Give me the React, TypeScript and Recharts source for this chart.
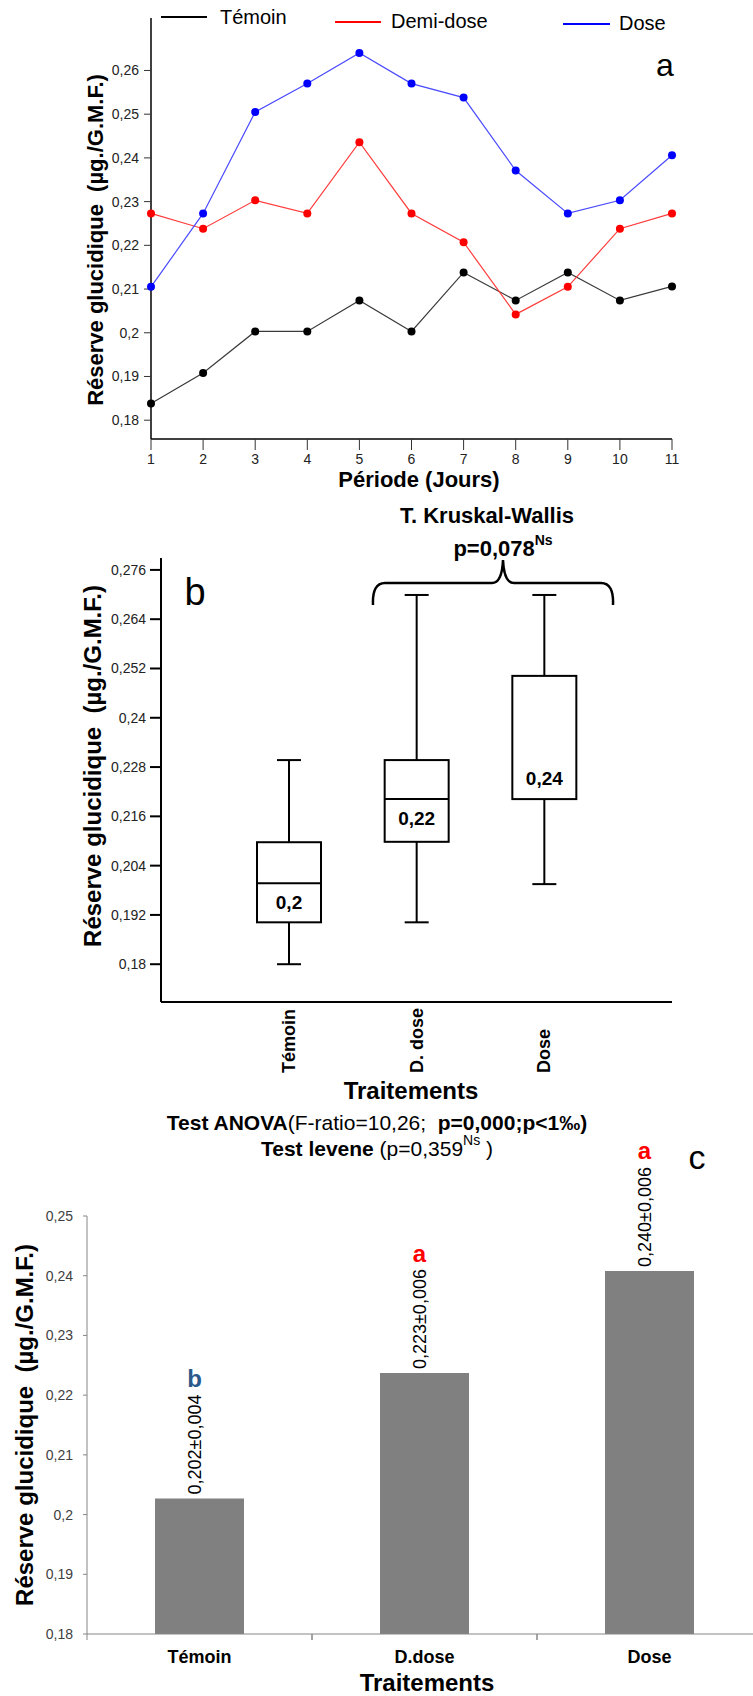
import React from 'react';
import { LineChart, Line, XAxis, YAxis, BarChart, Bar, ComposedChart, LabelList } from 'recharts';

// ---------- Panel a : time course ----------
const days = [1, 2, 3, 4, 5, 6, 7, 8, 9, 10, 11];
const temoinSeries = [0.1838, 0.1908, 0.2003, 0.2003, 0.2074, 0.2003, 0.2138, 0.2074, 0.2138, 0.2074, 0.2106];
const demiDoseSeries = [0.2273, 0.2238, 0.2303, 0.2273, 0.2436, 0.2273, 0.2207, 0.2042, 0.2105, 0.2238, 0.2273];
const doseSeries = [0.2105, 0.2273, 0.2505, 0.257, 0.264, 0.257, 0.2538, 0.2371, 0.2273, 0.2303, 0.2406];
const seriesNames = ['Témoin', 'Demi-dose', 'Dose'];
const seriesKeys = ['temoin', 'demi', 'dose'];
const lineYTicks = [0.18, 0.19, 0.2, 0.21, 0.22, 0.23, 0.24, 0.25, 0.26];

// ---------- Panel b : box plots ----------
const boxCategories = ['Témoin', 'D. dose', 'Dose'];
const boxMin = [0.18, 0.1902, 0.1995];
const boxQ1 = [0.1902, 0.2098, 0.2202];
const boxMedian = [0.1997, 0.2202, 0.2202];
const boxQ3 = [0.2097, 0.2297, 0.2502];
const boxMax = [0.2297, 0.2699, 0.2699];
const boxLabels = ['0,2', '0,22', '0,24'];
const boxYTicks = [0.18, 0.192, 0.204, 0.216, 0.228, 0.24, 0.252, 0.264, 0.276];

// ---------- Panel c : means ----------
const barCategories = ['Témoin', 'D.dose', 'Dose'];
const barMeans = [0.2027, 0.2237, 0.2408];
const barLabels = ['0,202±0,004', '0,223±0,006', '0,240±0,006'];
const barLetters = ['b', 'a', 'a'];
const barYTicks = [0.18, 0.19, 0.2, 0.21, 0.22, 0.23, 0.24, 0.25];

const FONT = '"Liberation Sans", Arial, sans-serif';
const lineColors = ['#3a3a3a', '#ff3b3b', '#4a4aff'];
const dotColors = ['#000000', '#ff0000', '#0000ff'];
const letterColors: Record<string, string> = { a: '#ff0000', b: '#2a5a8c' };

const fmt = (v: number) => String(Math.round(v * 1000) / 1000).replace('.', ',');

const lineData = days.map((d, i) => ({
  day: d,
  temoin: temoinSeries[i],
  demi: demiDoseSeries[i],
  dose: doseSeries[i],
}));

const boxData = boxCategories.map((name, i) => ({
  name,
  range: [boxMin[i], boxMax[i]],
  min: boxMin[i],
  q1: boxQ1[i],
  median: boxMedian[i],
  q3: boxQ3[i],
  max: boxMax[i],
  label: boxLabels[i],
}));

const barData = barCategories.map((name, i) => ({ name, mean: barMeans[i] }));

const BoxShape = (props: any) => {
  const { x, y, width, height, payload } = props;
  const { min, q1, median, q3, max, label } = payload;
  const px = (v: number) => y + ((max - v) / (max - min)) * height;
  const cx = x + width / 2;
  const cap = 12;
  const yMax = px(max);
  const yMin = px(min);
  const yQ1 = px(q1);
  const yQ3 = px(q3);
  const yMed = px(median);
  const sw = 2;
  return (
    <g>
      <line x1={cx} x2={cx} y1={yMax} y2={yQ3} stroke="#000" strokeWidth={sw} />
      <line x1={cx} x2={cx} y1={yQ1} y2={yMin} stroke="#000" strokeWidth={sw} />
      <line x1={cx - cap} x2={cx + cap} y1={yMax} y2={yMax} stroke="#000" strokeWidth={sw} />
      <line x1={cx - cap} x2={cx + cap} y1={yMin} y2={yMin} stroke="#000" strokeWidth={sw} />
      <rect x={x} y={yQ3} width={width} height={yQ1 - yQ3} fill="#fff" stroke="#000" strokeWidth={sw} />
      {median > q1 && <line x1={x} x2={x + width} y1={yMed} y2={yMed} stroke="#000" strokeWidth={sw} />}
      <text
        x={cx}
        y={median > q1 ? yMed + 19 : yMed - 21}
        textAnchor="middle"
        dominantBaseline="central"
        fontWeight="bold"
        fontSize={19}
        fill="#000"
      >
        {label}
      </text>
    </g>
  );
};

const BoxXTick = (props: any) => {
  const { x, y, payload } = props;
  const ty = y + 71;
  return (
    <text
      x={x}
      y={ty}
      transform={`rotate(-90, ${x}, ${ty})`}
      textAnchor="start"
      dy="0.35em"
      fontWeight="bold"
      fontSize={18}
      fill="#000"
    >
      {payload.value}
    </text>
  );
};

// Panel c geometry
const C_WIDTH = 770;
const C_MARGIN_LEFT = 27;
const C_MARGIN_RIGHT = 8;
const C_YAXIS_W = 60;
const C_BAND = (C_WIDTH - C_MARGIN_LEFT - C_MARGIN_RIGHT - C_YAXIS_W) / barCategories.length;

const BarXTick = (props: any) => {
  const { x, y, payload } = props;
  const left = x - C_BAND / 2;
  const right = x + C_BAND / 2;
  return (
    <g>
      <line x1={left} x2={left} y1={y} y2={y + 6} stroke="#868686" strokeWidth={1} />
      <line x1={right} x2={right} y1={y} y2={y + 6} stroke="#868686" strokeWidth={1} />
      <text x={x} y={y + 23} textAnchor="middle" dominantBaseline="central" fontWeight="bold" fontSize={18} fill="#000">
        {payload.value}
      </text>
    </g>
  );
};

const BarTopLabel = (props: any) => {
  const { x, y, width, index } = props;
  const cx = x + width / 2 - 5;
  const base = y - 4;
  const letter = barLetters[index];
  return (
    <g>
      <text
        x={cx}
        y={base}
        transform={`rotate(-90, ${cx}, ${base})`}
        textAnchor="start"
        dy="0.35em"
        fontSize={18}
        fill="#000"
      >
        {barLabels[index]}
      </text>
      <text
        x={cx}
        y={base - 116}
        textAnchor="middle"
        dominantBaseline="central"
        fontSize={24}
        fontWeight="bold"
        fill={letterColors[letter]}
      >
        {letter}
      </text>
    </g>
  );
};

const YLabel = ({ x, y, size, text }: { x: number; y: number; size: number; text: string }) => (
  <text
    x={x}
    y={y}
    transform={`rotate(-90, ${x}, ${y})`}
    textAnchor="middle"
    dy="0.35em"
    fontWeight="bold"
    fontSize={size}
    fill="#000"
    style={{ whiteSpace: 'pre' }}
  >
    {text}
  </text>
);

const yTitle = 'Réserve glucidique  (µg./G.M.F.)';

const Overlay = () => {
  const legendPos = [
    { x1: 161, x2: 207, ly: 17, tx: 220, ty: 17 },
    { x1: 335, x2: 381, ly: 22, tx: 391, ty: 21 },
    { x1: 563, x2: 610, ly: 24, tx: 619, ty: 23 },
  ];
  return (
    <svg
      width={753}
      height={1696}
      style={{ position: 'absolute', left: 0, top: 0, pointerEvents: 'none', fontFamily: FONT }}
    >
      {/* Panel a legend */}
      {seriesNames.map((n, i) => (
        <g key={n}>
          <line x1={legendPos[i].x1} x2={legendPos[i].x2} y1={legendPos[i].ly} y2={legendPos[i].ly} stroke={dotColors[i]} strokeWidth={2} />
          <text x={legendPos[i].tx} y={legendPos[i].ty} dominantBaseline="central" fontSize={20} fill="#000">
            {n}
          </text>
        </g>
      ))}
      <text x={665} y={65} textAnchor="middle" dominantBaseline="central" fontSize={32} fill="#000">a</text>
      <YLabel x={95} y={240} size={22} text={yTitle} />
      <text x={419} y={479} textAnchor="middle" dominantBaseline="central" fontWeight="bold" fontSize={22} fill="#000">
        Période (Jours)
      </text>

      {/* Panel b */}
      <text x={487} y={515} textAnchor="middle" dominantBaseline="central" fontWeight="bold" fontSize={22} fill="#000">
        T. Kruskal-Wallis
      </text>
      <text x={503} y={548} textAnchor="middle" dominantBaseline="central" fontWeight="bold" fontSize={22} fill="#000">
        p=0,078<tspan fontSize={14} dy={-8}>Ns</tspan>
      </text>
      <path
        d="M 373 605 Q 372 583 385 583 L 492 583 Q 502 583 503 560 Q 504 583 514 583 L 601 583 Q 614 583 613 605"
        fill="none"
        stroke="#000"
        strokeWidth={2.5}
      />
      <text x={195} y={592} textAnchor="middle" dominantBaseline="central" fontSize={38} fill="#000">b</text>
      <YLabel x={93} y={766} size={24} text={yTitle} />
      <text x={411} y={1090} textAnchor="middle" dominantBaseline="central" fontWeight="bold" fontSize={24} fill="#000">
        Traitements
      </text>
      <text x={377} y={1122} textAnchor="middle" dominantBaseline="central" fontSize={21} fill="#000" style={{ whiteSpace: 'pre' }}>
        <tspan fontWeight="bold">Test ANOVA</tspan>
        <tspan>(F-ratio=10,26;  </tspan>
        <tspan fontWeight="bold">p=0,000;p&lt;1‰)</tspan>
      </text>
      <text x={377} y={1148} textAnchor="middle" dominantBaseline="central" fontSize={21} fill="#000" style={{ whiteSpace: 'pre' }}>
        <tspan fontWeight="bold">Test levene</tspan>
        <tspan> (p=0,359</tspan>
        <tspan fontSize={14} dy={-8}>Ns</tspan>
        <tspan dy={8}> )</tspan>
      </text>
      <text x={697} y={1157} textAnchor="middle" dominantBaseline="central" fontSize={34} fill="#000">c</text>

      {/* Panel c */}
      <YLabel x={25} y={1425} size={24} text={yTitle} />
      <text x={427} y={1682} textAnchor="middle" dominantBaseline="central" fontWeight="bold" fontSize={24} fill="#000">
        Traitements
      </text>
    </svg>
  );
};

export default function App() {
  return (
    <div
      style={{
        position: 'fixed',
        left: 0,
        top: 0,
        width: 753,
        height: 1696,
        overflow: 'hidden',
        background: '#fff',
        fontFamily: FONT,
      }}
    >
      {/* Panel a */}
      <div style={{ position: 'absolute', left: 0, top: 0 }}>
        <LineChart width={753} height={500} data={lineData} margin={{ top: 18, right: 81, bottom: 31, left: 91 }}>
          <XAxis
            dataKey="day"
            type="number"
            domain={[1, 11]}
            ticks={days}
            height={30}
            axisLine={{ stroke: '#000', strokeWidth: 1.5 }}
            tickLine={{ stroke: '#333' }}
            tickSize={11}
            tickMargin={4}
            tick={{ fontSize: 14, fill: '#222' }}
          />
          <YAxis
            type="number"
            domain={[0.1757, 0.272]}
            ticks={lineYTicks}
            width={60}
            allowDataOverflow
            axisLine={{ stroke: '#000', strokeWidth: 1.5 }}
            tickLine={{ stroke: '#333' }}
            tickSize={7}
            tickMargin={5}
            tickFormatter={fmt}
            tick={{ fontSize: 14, fill: '#222' }}
          />
          {seriesKeys.map((k, i) => (
            <Line
              key={k}
              type="linear"
              dataKey={k}
              name={seriesNames[i]}
              stroke={lineColors[i]}
              strokeWidth={1.2}
              dot={{ r: 4, fill: dotColors[i], stroke: dotColors[i], strokeWidth: 0 }}
              isAnimationActive={false}
            />
          ))}
        </LineChart>
      </div>

      {/* Panel b */}
      <div style={{ position: 'absolute', left: 0, top: 540 }}>
        <ComposedChart width={753} height={560} data={boxData} margin={{ top: 18, right: 81, bottom: 18, left: 101 }}>
          <XAxis
            dataKey="name"
            type="category"
            padding={{ left: 64, right: 64 }}
            height={80}
            axisLine={{ stroke: '#000', strokeWidth: 2 }}
            tickLine={false}
            tickSize={0}
            tickMargin={0}
            tick={<BoxXTick />}
            interval={0}
          />
          <YAxis
            type="number"
            domain={[0.1708, 0.2789]}
            ticks={boxYTicks}
            width={60}
            allowDataOverflow
            axisLine={{ stroke: '#000', strokeWidth: 2 }}
            tickLine={{ stroke: '#000', strokeWidth: 2 }}
            tickSize={11}
            tickMargin={4}
            tickFormatter={fmt}
            tick={{ fontSize: 14, fill: '#222' }}
          />
          <Bar dataKey="range" barSize={64} shape={<BoxShape />} isAnimationActive={false} />
        </ComposedChart>
      </div>

      {/* Panel c */}
      <div style={{ position: 'absolute', left: 0, top: 1100 }}>
        <BarChart
          width={C_WIDTH}
          height={590}
          data={barData}
          margin={{ top: 116, right: C_MARGIN_RIGHT, bottom: 26, left: C_MARGIN_LEFT }}
        >
          <XAxis
            dataKey="name"
            type="category"
            height={30}
            axisLine={{ stroke: '#868686', strokeWidth: 1 }}
            tickLine={false}
            tickSize={0}
            tickMargin={0}
            tick={<BarXTick />}
            interval={0}
          />
          <YAxis
            type="number"
            domain={[0.18, 0.25]}
            ticks={barYTicks}
            width={C_YAXIS_W}
            allowDataOverflow
            axisLine={{ stroke: '#868686', strokeWidth: 1 }}
            tickLine={{ stroke: '#868686' }}
            tickSize={4}
            tickMargin={10}
            tickFormatter={fmt}
            tick={{ fontSize: 14, fill: '#404040' }}
          />
          <Bar dataKey="mean" fill="#808080" barSize={89} isAnimationActive={false}>
            <LabelList dataKey="mean" content={<BarTopLabel />} />
          </Bar>
        </BarChart>
      </div>

      <Overlay />
    </div>
  );
}
